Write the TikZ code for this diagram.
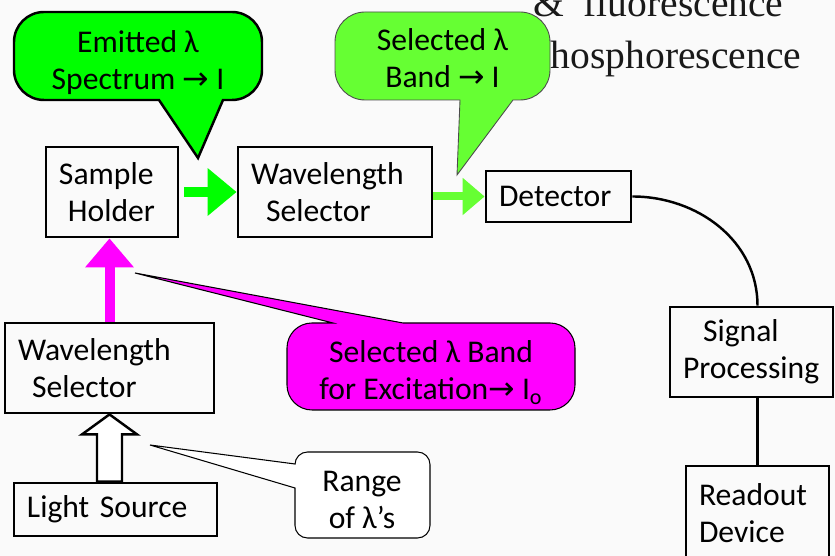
\documentclass[tikz,border=0pt]{standalone}
\usepackage{fontspec}
\setsansfont{Carlito}
\newfontfamily\arrowfont{DejaVu Sans}
\newfontfamily\slidefont{Liberation Serif}
\usepackage{tikz}
\usetikzlibrary{positioning,arrows.meta,calc}
\definecolor{vivid}{RGB}{0,255,0}
\definecolor{lime}{RGB}{102,255,51}
\definecolor{pink}{RGB}{255,0,255}
\newcommand{\toarr}{{\arrowfont →}}

\begin{document}
\begin{tikzpicture}[
  box/.style={draw,line width=1.6pt,align=left,inner xsep=.26cm,inner ysep=0pt,font=\sffamily\fontsize{18}{21}\selectfont},
  talk/.style={align=center,font=\sffamily\fontsize{18}{21}\selectfont},
  slide/.style={anchor=base west,text=black!90,font=\slidefont\fontsize{22.5}{27}\selectfont},
  ]
  \fill[black!2] (0,0) rectangle (16.7,11.12);
  \useasboundingbox (0,0) rectangle (16.7,11.12);

  \node (T1) [slide] at (10.54,10.78) {\&\ \ fluorescence};
  \node (T2) [slide] at (10.50,9.74) {phosphorescence};

  \node (sh) [box,text width=2.12cm,minimum height=1.8cm] at (2.24,7.28) {Sample\\\hspace{.18cm}Holder};
  \node (ws1) [box,text width=3.36cm,minimum height=1.8cm] at (6.70,7.28) {Wavelength\\\hspace{.3cm}Selector};
  \node (det) [box,text width=2.38cm,minimum height=1.02cm] at (11.17,7.19) {Detector};
  \node (sp) [box,text width=2.74cm,minimum height=1.8cm] at (15.03,4.08) {\hspace{.4cm}Signal\\Processing};
  \node (ro) [box,text width=2.34cm,minimum height=1.88cm] at (15.15,0.86) {Readout\\Device};
  \node (ws2) [box,text width=3.66cm,minimum height=1.8cm] at (2.19,3.76) {Wavelength\\\hspace{.28cm}Selector};
  \node (ls) [box,text width=3.54cm,minimum height=1.06cm] at (2.31,0.93) {Light Source};

  \coordinate (e) at (3.96,7.96);
  \coordinate (b) at (9.14,7.62);
  \coordinate (x) at (2.70,5.66);
  \coordinate (r) at (3.00,2.22);

  \filldraw[fill=vivid,line width=1.4pt] (e) -- (3.18,9.12) [rounded corners=.6cm] -- (0.28,9.12) -- (0.28,10.88)
    -- (5.24,10.88) -- (5.24,9.12) [sharp corners] -- (4.46,9.12) -- cycle;
  \node (G1) [talk] at (2.76,9.86) {Emitted λ\\Spectrum \toarr\ I};

  \filldraw[fill=lime,draw=black!70,line width=.5pt] (b) -- (9.20,9.12) [rounded corners=.6cm] -- (6.70,9.12) -- (6.70,10.88)
    -- (11.00,10.88) -- (11.00,9.12) [sharp corners] -- (10.26,9.12) -- cycle;
  \node (G2) [talk] at (8.85,9.96) {Selected λ\\Band \toarr\ I};

  \filldraw[fill=pink,line width=.6pt] (x) -- (6.66,4.66) [rounded corners=.5cm] -- (5.74,4.66) -- (5.74,2.92)
    -- (11.50,2.92) -- (11.50,4.66) [sharp corners] -- (8.06,4.66) -- cycle;
  \node (G3) [talk] at (8.62,3.67) {Selected λ Band\\for Excitation\toarr\ I\textsubscript{o}};

  \filldraw[fill=white,line width=.6pt] (r) -- (5.90,1.84) [rounded corners=.25cm] -- (5.90,2.08) -- (8.60,2.08)
    -- (8.60,0.36) -- (5.90,0.36) [sharp corners] -- (5.90,1.36) -- cycle;
  \node (G4) [talk] at (7.24,1.12) {Range\\of λ’s};

  \draw[vivid,line width=.19cm,shorten <=.1cm,-{Triangle[length=.58cm,width=.92cm]}] (sh.east) -- (ws1.west);
  \draw[lime,line width=.16cm,-{Triangle[length=.44cm,width=.72cm]}] (ws1.east |- det.west) -- (det.west);
  \draw[pink,line width=.2cm,-{Triangle[length=.58cm,width=.94cm]}] (ws2.north) -- (ws2.north |- sh.south);
  \draw[line width=1.4pt,fill=white] let \p1=(ws2.south), \p2=(ls.north) in
    (\p1) -- (\x1+.55cm,\y1-.4cm) -- (\x1+.25cm,\y1-.4cm) -- (\x1+.25cm,\y2)
    -- (\x1-.25cm,\y2) -- (\x1-.25cm,\y1-.4cm) -- (\x1-.55cm,\y1-.4cm) -- cycle;

  \draw[line width=1.4pt] (det.east) to[out=0,in=90] (ro.north |- sp.north);
  \draw[line width=1.4pt] (ro.north |- sp.south) -- (ro.north);
\end{tikzpicture}
\end{document}
